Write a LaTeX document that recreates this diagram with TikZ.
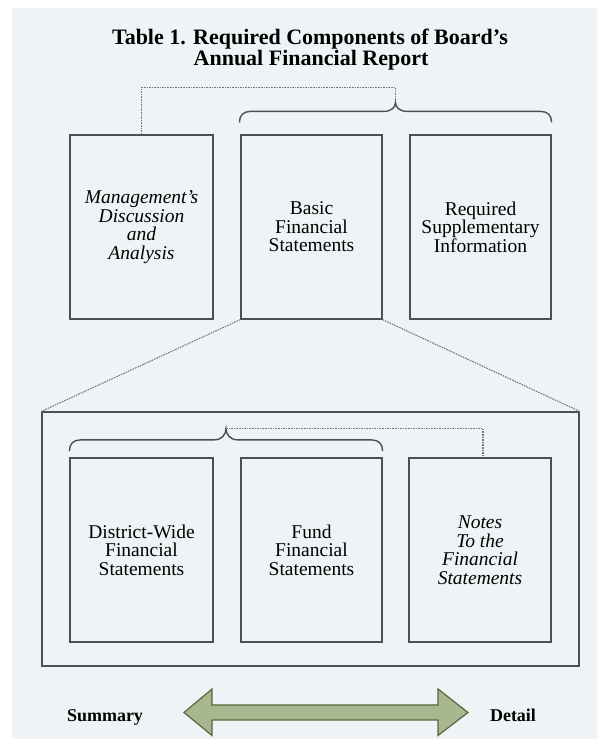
\documentclass[tikz,border=0pt]{standalone}
\usepackage{fontspec}
\setmainfont{Liberation Serif}
\usetikzlibrary{calc}
\definecolor{panelbg}{HTML}{EEF4F5}
\definecolor{boxline}{HTML}{4F4F4F}
\definecolor{dashline}{HTML}{787878}
\definecolor{arrowfill}{HTML}{A9B78E}
\definecolor{arrowline}{HTML}{56663F}
\tikzset{
  compbox/.style={draw=boxline, line width=1.2pt, minimum width=#1, minimum height=184pt,
    inner sep=0pt, align=center, font=\fontsize{19.5pt}{18.5pt}\selectfont},
  compbox/.default=142pt,
  dashconn/.style={draw=dashline, line width=1.1pt, dash pattern=on 1.6pt off 1pt},
  bracestyle/.style={draw=boxline, line width=1.4pt},
  titletext/.style={font=\fontsize{22pt}{21pt}\selectfont\bfseries, anchor=base, inner sep=0pt},
  endlabel/.style={font=\fontsize{18pt}{18pt}\selectfont\bfseries, anchor=base, inner sep=0pt}
}
\begin{document}
\begin{tikzpicture}[x=1pt,y=1pt]
\useasboundingbox (0,0) rectangle (600,739);
\fill[white] (0,0) rectangle (600,739);
\fill[panelbg] (12,0) rectangle (597,731);

% title
\node[titletext] (t1) at (310,694) {Table 1. Required Components of Board’s};
\node[titletext] (t2) at (311,673) {Annual Financial Report};

% top row boxes
\node[compbox=143pt] (b1) at (141.5,512) {\itshape Management’s\\\itshape Discussion\\\itshape and\\\itshape Analysis};
\node[compbox=141pt] (b2) at (311.5,512) {Basic\\Financial\\Statements};
\node[compbox=141pt] (b3) at (480.5,512) {Required\\Supplementary\\Information};

% big box
\node[draw=boxline, line width=1.2pt, minimum width=537pt, minimum height=254pt, inner sep=0pt] (big) at (310.5,200) {};

% inner boxes
\node[compbox=143pt] (ia) at (141.5,189) {District-Wide\\Financial\\Statements};
\node[compbox=141pt] (ib) at (311.5,189) {Fund\\Financial\\Statements};
\node[compbox=142pt] (ic) at (480,189) {\itshape Notes\\\itshape To the\\\itshape Financial\\\itshape Statements};

% top brace
\coordinate (brL) at ($(b2.north west)+(-1,12)$);
\coordinate (brR) at ($(b3.north east)+(0,12)$);
\coordinate (tipTop) at ($(brL)!0.5!(brR)+(0,20)$);
\draw[bracestyle] (brL) .. controls +(0,7) and +(-7,0) .. ++(11,11)
  -- ($(tipTop)+(-12,-9)$) .. controls +(8,0) and +(0,-5) .. (tipTop)
  .. controls +(0,-5) and +(-8,0) .. ($(tipTop)+(12,-9)$)
  -- ($(brR)+(-11,11)$) .. controls +(7,0) and +(0,7) .. (brR);
\draw[dashconn] (b1.north) -- ++(0,47) -| (tipTop);

% bottom brace
\coordinate (br2L) at ($(ia.north west)+(0,6.5)$);
\coordinate (br2R) at ($(ib.north east)+(0,6.5)$);
\coordinate (tipBot) at ($(br2L)!0.5!(br2R)+(0,22.5)$);
\draw[bracestyle] (br2L) .. controls +(0,7) and +(-7,0) .. ++(11,11)
  -- ($(tipBot)+(-12,-11.5)$) .. controls +(8,0) and +(0,-6) .. (tipBot)
  .. controls +(0,-6) and +(-8,0) .. ($(tipBot)+(12,-11.5)$)
  -- ($(br2R)+(-11,11)$) .. controls +(7,0) and +(0,7) .. (br2R);
\coordinate (icTop) at ($(ic.north)+(3,0)$);
\draw[dashconn] (tipBot) -| (icTop);

% expansion lines
\draw[dashconn] (b2.south west) -- (big.north west);
\draw[dashconn] (b2.south east) -- (big.north east);

% summary/detail arrow
\node[endlabel] (sum) at (105,17) {Summary};
\node[endlabel] (det) at (513,17) {Detail};
\draw[fill=arrowfill, draw=arrowline, line width=1.2pt, line join=miter]
  (184,26.5) -- (212,50) -- (212,34) -- (438,34) -- (438,50) -- (468,26.5)
  -- (438,3.5) -- (438,19) -- (212,19) -- (212,3.5) -- cycle;
\end{tikzpicture}
\end{document}
